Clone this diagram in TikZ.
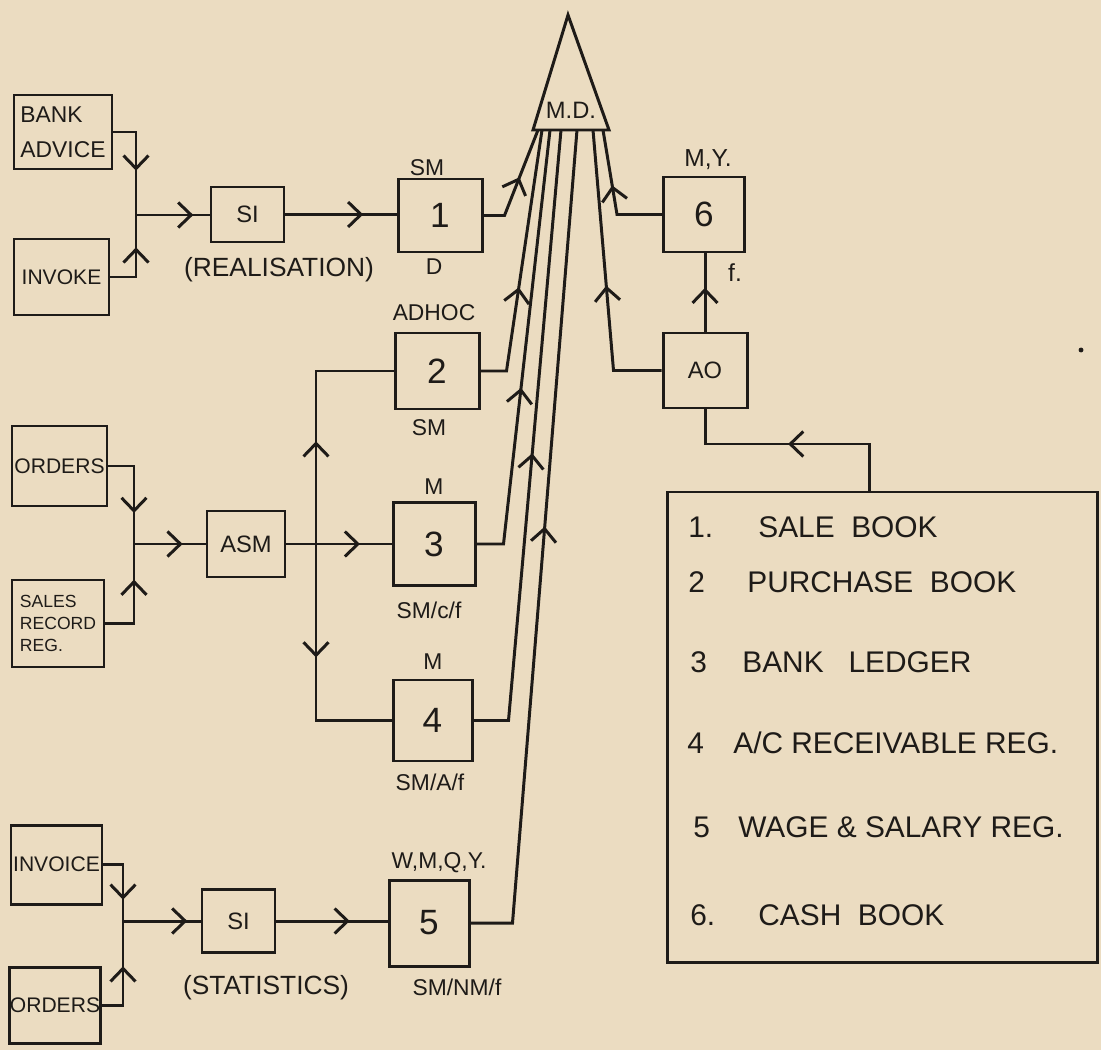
\documentclass[tikz,border=0pt]{standalone}
\usepackage{fontspec}
\setmainfont{Liberation Sans}
\usetikzlibrary{arrows.meta,positioning,decorations.markings}
\definecolor{ink}{HTML}{1E1B18}
\definecolor{paper}{HTML}{EBDCC1}
\tikzset{
  wire/.style={line width=1.7pt,draw=ink},
  flow/.style={wire,postaction={decorate},decoration={markings,mark=at position #1 with {\arrow{Straight Barb[length=2.6mm,width=5mm]}}}},
  sz/.style 2 args={minimum width=#1*0.02cm,minimum height=#2*0.02cm},
  doc/.style={draw=ink,line width=1.7pt,inner sep=0pt,align=left,text=ink,font=\fontsize{12}{14}\selectfont},
  proc/.style={draw=ink,line width=1.7pt,inner sep=0pt,text=ink,font=\fontsize{13.5}{16}\selectfont},
  rec/.style={draw=ink,line width=1.7pt,inner sep=0pt,text=ink,font=\fontsize{20}{22}\selectfont},
  tag/.style={inner sep=0pt,text=ink,font=\fontsize{13}{15}\selectfont},
  entry/.style={anchor=west,inner sep=0pt,text=ink,font=\fontsize{17}{20}\selectfont}
}
\begin{document}
\begin{tikzpicture}[x=0.02cm,y=-0.02cm]
  \fill[paper] (0,0) rectangle (1101,1050);
  \useasboundingbox (0,0) rectangle (1101,1050);

  % M.D. triangle
  \coordinate (apex) at (568,15);
  \coordinate (mdl) at (533,130);
  \coordinate (mdr) at (609,130);
  \draw[wire,line join=miter] (apex) -- (mdl) -- (mdr) -- cycle;
  \node[tag,font=\fontsize{13.5}{16}\selectfont] (md) at (571,110) {M.D.};
  \foreach \i/\x in {1/538,2/542,3/550,4/561,5/577,6/603,7/593}
    \coordinate (md\i) at (\x,130);

  % source documents
  \node[doc,sz={98}{74},font=\fontsize{13}{20}\selectfont] (bank) at (63,132) {BANK\\ADVICE};
  \node[doc,sz={95}{76}] (invoke) at (61.5,277) {INVOKE};
  \node[doc,sz={95}{80}] (orders) at (59.5,466) {ORDERS};
  \node[doc,sz={92}{87},font=\fontsize{10}{12.5}\selectfont] (sales) at (58,623.5) {SALES\\RECORD\\REG.};
  \node[doc,sz={91}{79}] (invoice) at (56.5,864.5) {INVOICE};
  \node[doc,sz={90}{76}] (orders2) at (55,1005) {ORDERS};

  % processing
  \node[proc,sz={73}{55}] (si1) at (247.5,214.5) {SI};
  \node[proc,sz={78}{66}] (asm) at (246,544) {ASM};
  \node[proc,sz={73}{63}] (si2) at (238.5,921) {SI};
  \node[proc,sz={84}{75}] (ao) at (705,370.5) {AO};

  % records
  \node[rec,sz={84}{73}] (b1) at (440,215.5) {1};
  \node[rec,sz={84}{76}] (b2) at (437,371) {2};
  \node[rec,sz={82}{83}] (b3) at (434,544) {3};
  \node[rec,sz={79}{81}] (b4) at (432.5,720.5) {4};
  \node[rec,sz={80}{86}] (b5) at (429,923) {5};
  \node[rec,sz={81}{75}] (b6) at (704,214.5) {6};

  % frequencies and users
  \node[tag] (t1a) at (427,168) {SM};
  \node[tag] (t1b) at (434,267) {D};
  \node[tag] (t2a) at (434,313) {ADHOC};
  \node[tag] (t2b) at (429,428) {SM};
  \node[tag] (t3a) at (434,487) {M};
  \node[tag] (t3b) at (429,610) {SM/c/f};
  \node[tag] (t4a) at (433,662) {M};
  \node[tag] (t4b) at (430,782) {SM/A/f};
  \node[tag] (t5a) at (439,863) {W,M,Q,Y.};
  \node[tag] (t5b) at (457,987) {SM/NM/f};
  \node[tag,font=\fontsize{14}{16}\selectfont] (t6a) at (708,160) {M,Y.};
  \node[tag,font=\fontsize{14}{16}\selectfont] (t6b) at (735,273) {f.};
  \node[tag,font=\fontsize{15}{17}\selectfont] (real) at (279,270) {(REALISATION)};
  \node[tag,font=\fontsize{15}{17}\selectfont] (stat) at (266,988) {(STATISTICS)};

  % list of records
  \node[draw=ink,line width=1.7pt,sz={430}{470}] (list) at (882,727) {};
  \node[entry] (n1) at (688,527) {1.};
  \node[entry] (e1) at (758,527) {SALE\ \ BOOK};
  \node[entry] (n2) at (688,582) {2};
  \node[entry] (e2) at (747,582) {PURCHASE\ \ BOOK};
  \node[entry] (n3) at (690,662) {3};
  \node[entry] (e3) at (742,662) {BANK\ \ \ LEDGER};
  \node[entry] (n4) at (687,743) {4};
  \node[entry] (e4) at (733,743) {A/C RECEIVABLE REG.};
  \node[entry] (n5) at (693,827) {5};
  \node[entry] (e5) at (738,827) {WAGE \& SALARY REG.};
  \node[entry] (n6) at (690,915) {6.};
  \node[entry] (e6) at (758,915) {CASH\ \ BOOK};

  % inputs
  \coordinate (j1) at (136,215);
  \draw[flow=0.58] (bank.east) -| (j1);
  \draw[flow=0.63] (invoke.east) -| (j1);
  \draw[flow=0.78] (j1) -- (j1 -| si1.west);
  \draw[flow=0.7] (si1.east) -- (si1.east -| b1.west);

  \coordinate (j2) at (134,544);
  \draw[flow=0.70] (orders.east) -| (j2);
  \draw[flow=0.67] (sales.east) -| (j2);
  \draw[flow=0.68] (j2) -- (asm.west);
  \draw[flow=0.7] (asm.east) -- (b3.west);
  \coordinate (bus) at (316,544);
  \draw[flow=0.41] (bus) |- (b2.west);
  \draw[flow=0.45] (bus) |- (b4.west);

  \coordinate (j3) at (123,921);
  \draw[flow=0.72] (invoice.east) -| (j3);
  \draw[flow=0.57] (orders2.east) -| (j3);
  \draw[flow=0.83] (j3) -- (si2.west);
  \draw[flow=0.66] (si2.east) -- (si2.east -| b5.west);

  % fan into M.D.
  \foreach \b/\d/\f/\i in {b1/21/0.55/1,b2/26/0.41/2,b3/27/0.415/3,b4/35/0.483/4,b5/42/0.525/5}
    \draw[flow=\f] (\b.east) -- ++(\d,0) -- (md\i);
  \draw[flow=0.57] (b6.west) -- ++(-45,0) -- (md6);
  \draw[flow=0.46] (ao.west) -- ++(-48,0) -- (md7);

  \draw[flow=0.56] (ao.north) -- (ao.north |- b6.south);
  \coordinate (tap) at (869,444);
  \draw[flow=0.52] (tap |- list.north) -- (tap) -| (ao.south);

  \fill[ink] (1081,350) circle[radius=1.4pt];
\end{tikzpicture}
\end{document}
